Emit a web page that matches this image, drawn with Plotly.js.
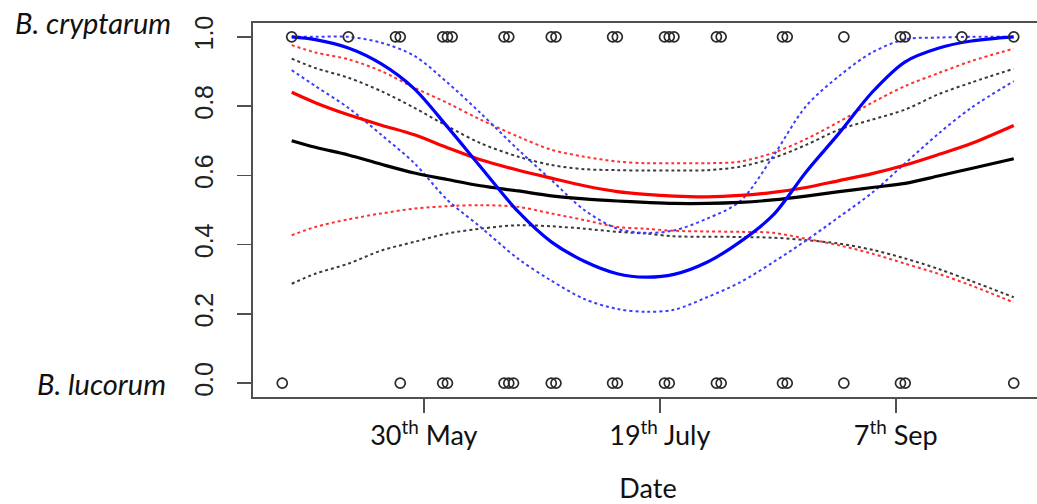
<!DOCTYPE html>
<html>
<head>
<meta charset="utf-8">
<script src="https://cdn.plot.ly/plotly-3.0.1.min.js"></script>
<style>
  html, body { margin: 0; padding: 0; background: #fff; overflow: hidden; }
  #chart { width: 1060px; height: 504px; }
</style>
</head>
<body>
<div id="chart"></div>
<script>
// Dates at which the fitted probability curves are evaluated
const curveDates = ['2013-05-02','2013-05-07','2013-05-14','2013-05-21','2013-05-28','2013-06-04',
  '2013-06-11','2013-06-19','2013-06-26','2013-07-03','2013-07-10','2013-07-16','2013-07-22',
  '2013-07-29','2013-08-05','2013-08-12','2013-08-19','2013-08-26','2013-09-02','2013-09-09',
  '2013-09-16','2013-09-23','2013-10-02'];

// Fitted probability of B. cryptarum, with lower/upper confidence bands
const blackFit   = [0.700,0.681,0.659,0.632,0.607,0.588,0.570,0.555,0.541,0.532,0.526,0.522,0.519,0.519,0.522,0.529,0.540,0.553,0.565,0.577,0.598,0.620,0.648];
const blackUpper = [0.937,0.910,0.882,0.843,0.795,0.742,0.693,0.654,0.630,0.618,0.615,0.614,0.614,0.615,0.625,0.650,0.688,0.732,0.761,0.790,0.834,0.868,0.908];
const blackLower = [0.287,0.316,0.345,0.383,0.408,0.432,0.446,0.456,0.453,0.446,0.437,0.432,0.424,0.423,0.422,0.420,0.413,0.403,0.385,0.360,0.330,0.295,0.248];

const redFit   = [0.840,0.810,0.775,0.745,0.717,0.680,0.645,0.615,0.592,0.570,0.553,0.545,0.540,0.538,0.542,0.551,0.565,0.585,0.605,0.630,0.660,0.692,0.744];
const redUpper = [0.976,0.955,0.935,0.901,0.853,0.809,0.761,0.712,0.674,0.654,0.640,0.635,0.635,0.635,0.640,0.665,0.705,0.755,0.810,0.858,0.895,0.930,0.966];
const redLower = [0.427,0.451,0.473,0.490,0.504,0.511,0.514,0.509,0.490,0.471,0.451,0.446,0.440,0.438,0.437,0.434,0.417,0.398,0.374,0.345,0.316,0.282,0.233];

const blueFit   = [1.000,0.992,0.968,0.922,0.850,0.740,0.625,0.495,0.408,0.352,0.316,0.306,0.314,0.349,0.408,0.485,0.610,0.722,0.840,0.928,0.967,0.988,1.000];
const blueUpper = [1.000,1.000,1.000,0.983,0.945,0.868,0.780,0.674,0.587,0.500,0.446,0.434,0.441,0.475,0.525,0.655,0.800,0.887,0.955,0.993,0.998,1.000,1.000];
const blueLower = [0.904,0.858,0.795,0.717,0.635,0.529,0.451,0.359,0.296,0.243,0.214,0.206,0.212,0.248,0.291,0.349,0.412,0.480,0.550,0.635,0.720,0.795,0.872];

// Individual records: 1 = B. cryptarum, 0 = B. lucorum
const cryptarumDates = ['2013-05-02','2013-05-14','2013-05-24','2013-05-25','2013-06-03','2013-06-04',
  '2013-06-05','2013-06-16','2013-06-17','2013-06-26','2013-06-27','2013-07-09','2013-07-10',
  '2013-07-20','2013-07-21','2013-07-22','2013-07-31','2013-08-01','2013-08-14','2013-08-15',
  '2013-08-27','2013-09-08','2013-09-09','2013-09-21','2013-10-02'];
const lucorumDates = ['2013-04-30','2013-05-25','2013-06-03','2013-06-04','2013-06-16','2013-06-17',
  '2013-06-18','2013-06-26','2013-06-27','2013-07-09','2013-07-10','2013-07-20','2013-07-21',
  '2013-07-31','2013-08-01','2013-08-14','2013-08-15','2013-08-27','2013-09-08','2013-09-09','2013-10-02'];

// Axis ticks
const xTickDates = ['2013-05-30','2013-07-19','2013-09-07'];
const xTickText  = ['30<sup>th</sup> May','19<sup>th</sup> July','7<sup>th</sup> Sep'];
const yTickVals  = [0, 0.2, 0.4, 0.6, 0.8, 1.0];
const yTickText  = ['0.0','0.2','0.4','0.6','0.8','1.0'];

// x range padded by 4% on each side of the records
const allMs = cryptarumDates.concat(lucorumDates).map(d => Date.parse(d + 'T00:00:00Z'));
const minMs = Math.min(...allMs), maxMs = Math.max(...allMs);
const pad = (maxMs - minMs) * 0.04;
const toStr = ms => new Date(ms).toISOString().slice(0, 19).replace('T', ' ');
const xRange = [toStr(minMs - pad), toStr(maxMs + pad)];

function line(y, color, width, dash) {
  return { x: curveDates, y: y, type: 'scatter', mode: 'lines', hoverinfo: 'skip',
    line: { color: color, width: width, dash: dash, shape: 'spline', smoothing: 0.9 } };
}

const pointStyle = { symbol: 'circle-open', size: 10, color: '#2a2a2a', line: { width: 1.7, color: '#2a2a2a' } };

const traces = [
  line(blackUpper, '#3a3a3a', 2, 'dot'),
  line(blackLower, '#3a3a3a', 2, 'dot'),
  line(redUpper, '#ff3030', 2, 'dot'),
  line(redLower, '#ff3030', 2, 'dot'),
  line(blueUpper, '#3c3cff', 2, 'dot'),
  line(blueLower, '#3c3cff', 2, 'dot'),
  line(blackFit, '#000000', 3.2, 'solid'),
  line(redFit, '#ff0000', 3.2, 'solid'),
  line(blueFit, '#0000ff', 3.2, 'solid'),
  { x: cryptarumDates, y: cryptarumDates.map(() => 1), type: 'scatter', mode: 'markers', marker: pointStyle },
  { x: lucorumDates, y: lucorumDates.map(() => 0), type: 'scatter', mode: 'markers', marker: pointStyle }
];

const labelFont = { family: 'Lato, "Open Sans", sans-serif', size: 27, color: '#111' };
const speciesFont = { family: 'Lato, "Open Sans", sans-serif', size: 29, color: '#111' };

const layout = {
  width: 1060, height: 504,
  margin: { l: 253, r: 17, t: 23, b: 107 },
  paper_bgcolor: '#fff', plot_bgcolor: '#fff',
  showlegend: false,
  xaxis: {
    type: 'date', range: xRange,
    tickmode: 'array', tickvals: xTickDates, ticktext: xTickText,
    ticks: 'outside', ticklen: 14, tickwidth: 1.6, tickcolor: '#505050',
    showline: true, mirror: true, linecolor: '#505050', linewidth: 2,
    showgrid: false, zeroline: false,
    tickfont: labelFont,
    title: { text: 'Date', font: labelFont, standoff: 34 }
  },
  yaxis: {
    range: [-0.04, 1.04],
    tickmode: 'array', tickvals: yTickVals, ticktext: yTickText, tickangle: -90,
    ticks: 'outside', ticklen: 14, tickwidth: 1.6, tickcolor: '#505050',
    ticklabelstandoff: 14,
    showline: true, mirror: true, linecolor: '#505050', linewidth: 2,
    showgrid: false, zeroline: false,
    tickfont: { family: '"Liberation Sans", Arial, sans-serif', size: 25, color: '#222' }
  },
  annotations: [
    { text: '<i>B. cryptarum</i>', xref: 'paper', yref: 'y', x: 0, y: 1, xanchor: 'right', yanchor: 'middle',
      xshift: -80, yshift: 14, showarrow: false, font: speciesFont },
    { text: '<i>B. lucorum</i>', xref: 'paper', yref: 'y', x: 0, y: 0, xanchor: 'right', yanchor: 'middle',
      xshift: -85, yshift: 0, showarrow: false, font: speciesFont }
  ]
};

Plotly.newPlot('chart', traces, layout, { displayModeBar: false, staticPlot: true });
</script>
</body>
</html>
